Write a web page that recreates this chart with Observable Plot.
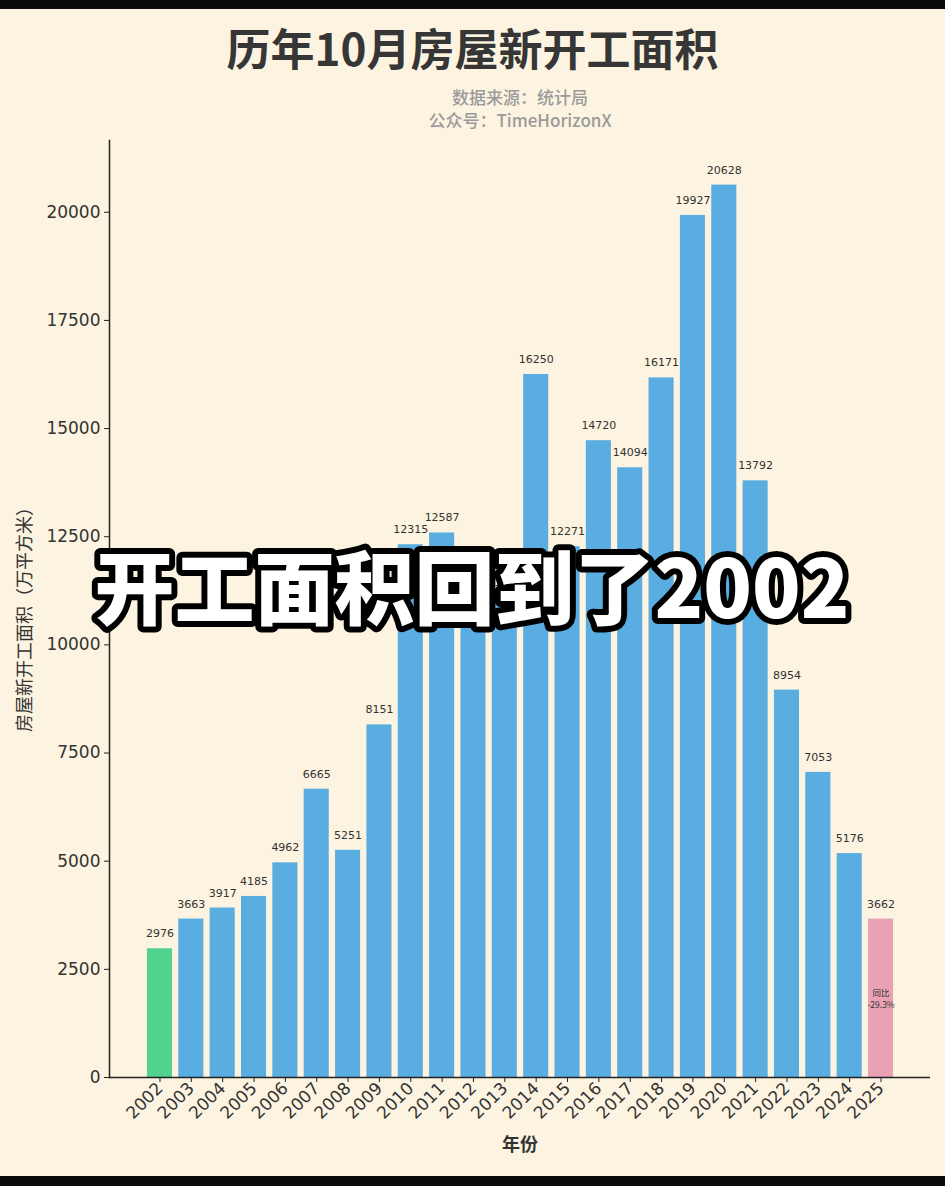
<!DOCTYPE html>
<html>
<head>
<meta charset="utf-8">
<script src="https://cdn.jsdelivr.net/npm/d3@7"></script>
<script src="https://cdn.jsdelivr.net/npm/@observablehq/plot@0.6"></script>
<style>
  html, body { margin: 0; padding: 0; }
  body { width: 945px; height: 1186px; background: #fcf4e1; position: relative; overflow: hidden;
         font-family: "Noto Sans CJK SC", "DejaVu Sans", sans-serif; }
  .bandTop { position: absolute; left: 0; top: 0; width: 945px; height: 9px; background: #0a0a0a; }
  .bandBot { position: absolute; left: 0; top: 1176px; width: 945px; height: 10px; background: #0a0a0a; }
  .title { position: absolute; left: 0; width: 945px; top: 23px; text-align: center; font-size: 44px;
           line-height: 48px; font-weight: 700; color: #363636; }
  .sub { position: absolute; left: 320px; width: 400px; top: 85px; text-align: center; font-size: 17px;
         line-height: 23px; color: #9a9a9a; font-weight: 500; }
  #chart { position: absolute; left: 0; top: 130px; }
</style>
</head>
<body>
<div class="bandTop"></div>
<div class="title">历年10月房屋新开工面积</div>
<div class="sub">数据来源：统计局<br>公众号：TimeHorizonX</div>
<div id="chart"></div>
<div class="bandBot"></div>
<script>
const years = ["2002","2003","2004","2005","2006","2007","2008","2009","2010","2011","2012","2013",
               "2014","2015","2016","2017","2018","2019","2020","2021","2022","2023","2024","2025"];
const values = [2976, 3663, 3917, 4185, 4962, 6665, 5251, 8151, 12315, 12587, 11827, 11087,
                16250, 12271, 14720, 14094, 16171, 19927, 20628, 13792, 8954, 7053, 5176, 3662];
const yTicks = [0, 2500, 5000, 7500, 10000, 12500, 15000, 17500, 20000];
const firstYear = "2002";
const lastYear = "2025";
const yoyText = "同比\n-29.3%";
const overlayText = "开工面积回到了2002";
const yLabel = "房屋新开工面积（万平方米）";
const xLabel = "年份";

const colorBlue = "#5aade1", colorGreen = "#52d38d", colorPink = "#e9a2b3";
const data = years.map((year, i) => ({
  year, value: values[i],
  color: year === firstYear ? colorGreen : year === lastYear ? colorPink : colorBlue
}));
const last = data[data.length - 1];

const chart = Plot.plot({
  width: 945,
  height: 1046,
  marginLeft: 109,
  marginRight: 15,
  marginTop: 10,
  marginBottom: 99,
  style: { background: "transparent", fontFamily: "'DejaVu Sans', 'Noto Sans CJK SC', sans-serif", color: "#333" },
  x: { type: "band", domain: years, range: [143.8, 896.2], paddingInner: 0.2, paddingOuter: 0.1, round: false, label: null },
  y: { domain: [0, 21659], label: null },
  color: { type: "identity" },
  marks: [
    Plot.barY(data, { x: "year", y: "value", fill: "color" }),
    Plot.text(data, { x: "year", y: "value", text: d => String(d.value), dy: -15, lineAnchor: "middle",
                      fontSize: 11, fill: "#333" }),
    Plot.text([last], { x: "year", y: d => d.value / 2, text: () => yoyText, fontSize: 8.5, fill: "#333",
                        lineAnchor: "middle", lineHeight: 1.35,
                        fontFamily: "'Noto Sans CJK SC', 'DejaVu Sans', sans-serif" }),
    Plot.ruleY([0], { stroke: "#222", strokeWidth: 1.5 }),
    Plot.frame({ anchor: "left", stroke: "#222", strokeWidth: 1.5 }),
    Plot.axisY({ ticks: yTicks, tickFormat: d => String(d), tickSize: 5, tickPadding: 4, fontSize: 17,
                 label: null, stroke: "#222", fill: "#333" }),
    Plot.axisX({ tickRotate: -45, tickSize: 5, tickPadding: 3, fontSize: 17, label: null, textAnchor: "end",
                 stroke: "#222", fill: "#333" }),
    Plot.text([yLabel], { frameAnchor: "left", textAnchor: "middle", dx: -84, dy: 6, rotate: -90, fontSize: 18,
                          fill: "#333", fontFamily: "'Noto Sans CJK SC', sans-serif" }),
    Plot.text([xLabel], { frameAnchor: "bottom", dy: 73, fontSize: 18, fill: "#333", fontWeight: 700,
                          fontFamily: "'Noto Sans CJK SC', sans-serif" }),
    Plot.text([overlayText], { frameAnchor: "top", dx: -48, dy: 452, lineAnchor: "middle", fontSize: 80,
                               fontWeight: 900, fill: "#ffffff", stroke: "#000000", strokeWidth: 12,
                               strokeLinejoin: "round",
                               fontFamily: "'Noto Sans CJK SC', 'DejaVu Sans', sans-serif" })
  ]
});
document.getElementById("chart").appendChild(chart);
</script>
</body>
</html>
